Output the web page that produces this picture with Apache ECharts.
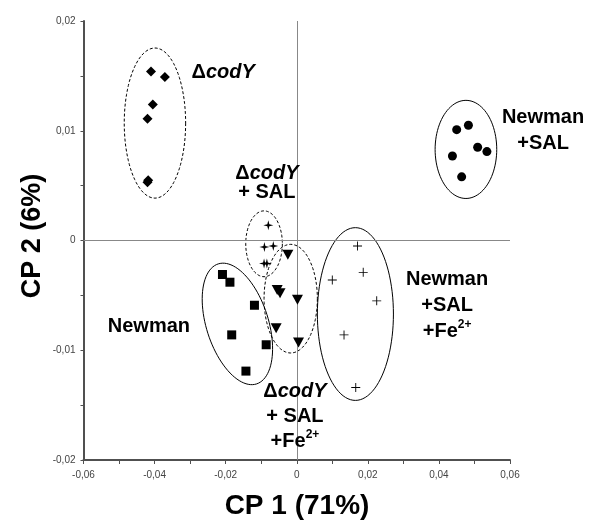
<!DOCTYPE html>
<html>
<head>
<meta charset="utf-8">
<script src="https://cdn.jsdelivr.net/npm/echarts@6/dist/echarts.min.js"></script>
<style>
  html, body { margin: 0; padding: 0; background: #fff; }
  #chart { width: 590px; height: 520px; }
</style>
</head>
<body>
<div id="chart"></div>
<script>
// PCA scores, one array per strain / condition: [CP1, CP2]
const codY        = [[-0.0410, 0.0154], [-0.0371, 0.0149], [-0.0405, 0.0124], [-0.0420, 0.0111], [-0.0418, 0.0055], [-0.0420, 0.0053]];
const codYSal     = [[-0.0080, 0.0014], [-0.0091, -0.0006], [-0.0066, -0.0005], [-0.0092, -0.0021], [-0.0084, -0.0021]];
const codYSalFe   = [[-0.0025, -0.0013], [-0.0055, -0.0045], [-0.0047, -0.0048], [0.0002, -0.0054], [-0.0058, -0.0080], [0.0005, -0.0093]];
const newman      = [[-0.0209, -0.0031], [-0.0188, -0.0038], [-0.0119, -0.0059], [-0.0183, -0.0086], [-0.0086, -0.0095], [-0.0143, -0.0119]];
const newmanSalFe = [[0.0171, -0.0005], [0.0187, -0.0029], [0.0100, -0.0036], [0.0225, -0.0055], [0.0133, -0.0086], [0.0166, -0.0134]];
const newmanSal   = [[0.0450, 0.0101], [0.0483, 0.0105], [0.0509, 0.0085], [0.0535, 0.0081], [0.0438, 0.0077], [0.0464, 0.0058]];

// Group envelopes: [centre CP1, centre CP2, half-width CP1, half-height CP2, tilt in degrees]
const envelopes = [
  [-0.0399, 0.0107, 0.00864, 0.00684, 0],    // ΔcodY
  [-0.0092, -0.0003, 0.00515, 0.00300, 0],   // ΔcodY + SAL
  [-0.0017, -0.0053, 0.00750, 0.00495, 0],   // ΔcodY + SAL + Fe
  [-0.0167, -0.0076, 0.00872, 0.00574, 17.7],// Newman
  [0.0165, -0.0067, 0.01070, 0.00787, 0],    // Newman + SAL + Fe
  [0.0476, 0.0083, 0.00867, 0.00447, 0]      // Newman + SAL
];
const envelopeDashed = [true, true, true, false, false, false];

// Group captions and where they sit (data coordinates)
const captionText = [
  '{b|Δ}{it|codY}',
  '{b|Δ}{it|codY}\n{b|+ SAL}',
  '{b|Newman}',
  '{b|Δ}{it|codY}\n{b|+ SAL}\n{b|+Fe}{s|2+}',
  '{b|Newman}\n{b|+SAL}',
  '{b|Newman}\n{b|+SAL}\n{b|+Fe}{s|2+}'
];
const captionPos = [[-0.0207, 0.0153], [-0.0084, 0.0052], [-0.0416, -0.0078], [-0.0005, -0.0160], [0.0693, 0.0100], [0.0423, -0.0059]];
const captionLineHeight = [22, 19, 22, 25, 26, 26];

// Axis ranges
const xMin = -0.06, xMax = 0.06, xStep = 0.02;
const yMin = -0.02, yMax = 0.02, yStep = 0.01;

const FONT = '"Liberation Sans", Arial, sans-serif';

function fmt(v) {
  if (Math.abs(v) < 1e-9) return '0';
  return v.toFixed(2).replace('.', ',');
}

function richFor(lh) {
  return {
    b:  { fontFamily: FONT, fontSize: 20, fontWeight: 'bold', color: '#000', opacity: 1, lineHeight: lh },
    it: { fontFamily: FONT, fontSize: 20, fontWeight: 'bold', fontStyle: 'italic', color: '#000', opacity: 1, lineHeight: lh },
    s:  { fontFamily: FONT, fontSize: 12, fontWeight: 'bold', color: '#000', opacity: 1, lineHeight: lh, verticalAlign: 'top' }
  };
}

const plusPath = 'path://M4.5,0H5.5V10H4.5Z M0,4.5H10V5.5H0Z';
const starPath = 'path://M5,0 L6,4 L10,5 L6,6 L5,10 L4,6 L0,5 L4,4 Z';

function markers(data, symbol, size, extra) {
  return Object.assign({
    type: 'scatter',
    data: data,
    symbol: symbol,
    symbolSize: size,
    itemStyle: { color: '#000', opacity: 1 },
    z: 5,
    silent: true
  }, extra || {});
}

const axisColor = '#505050';

const chart = echarts.init(document.getElementById('chart'), null, { renderer: 'canvas' });

chart.setOption({
  animation: false,
  backgroundColor: '#fff',
  grid: { left: 83.5, right: 80, top: 21, bottom: 60 },
  xAxis: {
    type: 'value', min: xMin, max: xMax, interval: xStep,
    axisLine: { show: true, onZero: false, lineStyle: { color: axisColor, width: 2 } },
    axisTick: { show: true, length: 4, lineStyle: { color: axisColor } },
    minorTick: { show: true, splitNumber: 2, length: 4, lineStyle: { color: axisColor } },
    splitLine: { show: false },
    axisLabel: { formatter: fmt, fontFamily: FONT, fontSize: 10, color: '#444', margin: 10 }
  },
  yAxis: {
    type: 'value', min: yMin, max: yMax, interval: yStep,
    axisLine: { show: true, onZero: false, lineStyle: { color: axisColor, width: 2 } },
    axisTick: { show: true, length: 3, lineStyle: { color: axisColor } },
    minorTick: { show: true, splitNumber: 2, length: 3, lineStyle: { color: axisColor } },
    splitLine: { show: false },
    axisLabel: { formatter: fmt, fontFamily: FONT, fontSize: 10, color: '#444', margin: 8 }
  },
  graphic: [
    { type: 'text', position: [297, 506],
      style: { text: 'CP 1 (71%)', font: 'bold 28px ' + FONT, fill: '#000', textAlign: 'center', textVerticalAlign: 'middle' } },
    { type: 'text', position: [33, 236], rotation: Math.PI / 2,
      style: { text: 'CP 2 (6%)', font: 'bold 27px ' + FONT, fill: '#000', textAlign: 'center', textVerticalAlign: 'middle' } }
  ],
  series: [
    {
      // envelopes round each group
      type: 'custom',
      clip: false,
      silent: true,
      z: 3,
      data: envelopes.map((e, i) => e.concat([i])),
      renderItem: function (params, api) {
        const c = api.coord([api.value(0), api.value(1)]);
        const rx = api.size([api.value(2), 0])[0];
        const ry = api.size([0, api.value(3)])[1];
        const th = api.value(4) * Math.PI / 180;
        const dashed = envelopeDashed[api.value(5)];
        const pts = [];
        for (let k = 0; k <= 96; k++) {
          const t = k / 96 * Math.PI * 2;
          const u = rx * Math.cos(t), v = ry * Math.sin(t);
          pts.push([c[0] + u * Math.cos(th) + v * Math.sin(th), c[1] - u * Math.sin(th) + v * Math.cos(th)]);
        }
        return {
          type: 'polyline',
          shape: { points: pts },
          style: { fill: null, stroke: '#000', lineWidth: 1, lineDash: dashed ? [3, 2] : null }
        };
      }
    },
    markers(codY, 'diamond', 10, {
      markLine: {
        silent: true, symbol: 'none', label: { show: false },
        lineStyle: { color: '#888', width: 1, type: 'solid', opacity: 1 },
        emphasis: { disabled: true },
        data: [{ xAxis: 0 }, { yAxis: 0 }]
      }
    }),
    markers(codYSal, starPath, 10),
    markers(codYSalFe, 'triangle', [11, 10], { symbolRotate: 180 }),
    markers(newman, 'rect', 9),
    markers(newmanSalFe, plusPath, 9),
    markers(newmanSal, 'circle', 9),
    {
      // group captions
      type: 'scatter',
      clip: false,
      silent: true,
      z: 6,
      symbol: 'circle',
      symbolSize: 1,
      itemStyle: { color: 'rgba(255,255,255,0)', opacity: 1 },
      data: captionPos.map((p, i) => ({
        value: p,
        label: {
          show: true,
          position: 'inside',
          align: 'center',
          verticalAlign: 'middle',
          color: '#000',
          opacity: 1,
          formatter: captionText[i],
          rich: richFor(captionLineHeight[i])
        }
      }))
    }
  ]
});
</script>
</body>
</html>
